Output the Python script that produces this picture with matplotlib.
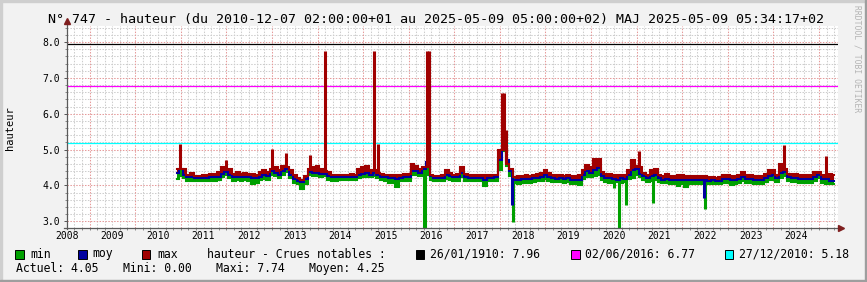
import numpy as np
import matplotlib
matplotlib.use("Agg")
import matplotlib.pyplot as plt
from matplotlib.patches import Rectangle
from matplotlib.lines import Line2D

W, H, DPI = 867, 282, 100
MONO = "DejaVu Sans Mono"

# ---------------- data (monthly values, from June 2010) ----------------
start_year = 2010
start_month = 6

h_max = [
    4.45, 4.45, 4.45, 4.30, 4.35, 4.27, 4.27,                                  # 2010
    4.30, 4.28, 4.32, 4.32, 4.37, 4.52, 4.45, 4.45, 4.33, 4.37, 4.33, 4.35,    # 2011
    4.33, 4.33, 4.30, 4.37, 4.43, 4.37, 4.45, 4.50, 4.43, 4.55, 4.50, 4.43,    # 2012
    4.28, 4.20, 4.15, 4.25, 4.45, 4.50, 4.55, 4.45, 4.40, 4.37, 4.30, 4.30,    # 2013
    4.30, 4.30, 4.30, 4.32, 4.30, 4.47, 4.50, 4.55, 4.42, 4.42, 4.35, 4.33,    # 2014
    4.30, 4.30, 4.30, 4.28, 4.30, 4.33, 4.32, 4.60, 4.55, 4.47, 4.50, 4.50,    # 2015
    4.30, 4.27, 4.27, 4.28, 4.42, 4.35, 4.30, 4.33, 4.50, 4.33, 4.30, 4.30,    # 2016
    4.28, 4.28, 4.28, 4.30, 4.28, 4.30, 4.98, 5.00, 4.60, 4.45, 4.23, 4.25,    # 2017
    4.27, 4.28, 4.27, 4.30, 4.32, 4.35, 4.43, 4.35, 4.30, 4.28, 4.30, 4.27,    # 2018
    4.30, 4.25, 4.25, 4.28, 4.42, 4.56, 4.52, 4.73, 4.73, 4.37, 4.33, 4.33,    # 2019
    4.30, 4.28, 4.30, 4.30, 4.42, 4.72, 4.55, 4.50, 4.35, 4.30, 4.42, 4.47,    # 2020
    4.30, 4.25, 4.33, 4.25, 4.25, 4.28, 4.28, 4.25, 4.25, 4.25, 4.25, 4.25,    # 2021
    4.25, 4.22, 4.23, 4.20, 4.22, 4.28, 4.28, 4.25, 4.25, 4.30, 4.37, 4.30,    # 2022
    4.30, 4.25, 4.25, 4.25, 4.33, 4.42, 4.42, 4.30, 4.60, 4.45, 4.33, 4.33,    # 2023
    4.33, 4.30, 4.28, 4.30, 4.30, 4.37, 4.37, 4.30, 4.30, 4.33, 4.28,          # 2024
]
h_moy = [
    4.35, 4.45, 4.30, 4.22, 4.22, 4.20, 4.20,
    4.20, 4.20, 4.22, 4.22, 4.24, 4.32, 4.38, 4.30, 4.22, 4.24, 4.22, 4.24,
    4.22, 4.20, 4.20, 4.24, 4.28, 4.26, 4.40, 4.35, 4.30, 4.40, 4.45, 4.30,
    4.18, 4.13, 4.10, 4.17, 4.38, 4.35, 4.35, 4.33, 4.33, 4.25, 4.22, 4.22,
    4.22, 4.22, 4.22, 4.23, 4.22, 4.30, 4.32, 4.35, 4.30, 4.35, 4.28, 4.23,
    4.22, 4.20, 4.20, 4.18, 4.20, 4.23, 4.22, 4.40, 4.40, 4.35, 4.45, 4.65,
    4.25, 4.20, 4.20, 4.21, 4.30, 4.25, 4.22, 4.23, 4.35, 4.23, 4.21, 4.21,
    4.20, 4.20, 4.15, 4.21, 4.20, 4.22, 4.70, 5.25, 4.70, 4.40, 4.15, 4.15,
    4.18, 4.18, 4.18, 4.20, 4.21, 4.22, 4.28, 4.23, 4.20, 4.19, 4.20, 4.18,
    4.20, 4.16, 4.16, 4.15, 4.28, 4.40, 4.35, 4.42, 4.48, 4.25, 4.20, 4.20,
    4.18, 4.15, 4.20, 4.18, 4.28, 4.42, 4.45, 4.33, 4.25, 4.20, 4.25, 4.30,
    4.20, 4.16, 4.18, 4.15, 4.15, 4.15, 4.15, 4.14, 4.14, 4.14, 4.14, 4.14,
    4.14, 4.13, 4.14, 4.12, 4.13, 4.17, 4.17, 4.15, 4.15, 4.18, 4.22, 4.18,
    4.18, 4.15, 4.15, 4.15, 4.20, 4.25, 4.30, 4.20, 4.35, 4.37, 4.22, 4.20,
    4.20, 4.18, 4.17, 4.18, 4.18, 4.22, 4.30, 4.18, 4.17, 4.12, 4.12,
]
h_min = [
    4.18, 4.25, 4.20, 4.13, 4.12, 4.12, 4.12,
    4.12, 4.12, 4.13, 4.13, 4.14, 4.22, 4.28, 4.20, 4.13, 4.14, 4.13, 4.14,
    4.12, 4.05, 4.08, 4.14, 4.17, 4.16, 4.30, 4.25, 4.20, 4.28, 4.38, 4.20,
    4.08, 4.05, 3.90, 4.05, 4.28, 4.25, 4.25, 4.22, 4.25, 4.15, 4.13, 4.13,
    4.14, 4.14, 4.14, 4.14, 4.14, 4.20, 4.22, 4.24, 4.22, 4.25, 4.20, 4.14,
    4.12, 4.08, 4.08, 3.95, 4.12, 4.13, 4.12, 4.30, 4.30, 4.25, 4.28, 4.30,
    4.15, 4.12, 4.12, 4.12, 4.18, 4.15, 4.12, 4.13, 4.22, 4.13, 4.12, 4.12,
    4.12, 4.12, 3.97, 4.12, 4.12, 4.13, 4.42, 4.95, 4.55, 4.25, 4.07, 4.05,
    4.08, 4.08, 4.08, 4.10, 4.11, 4.12, 4.18, 4.13, 4.10, 4.10, 4.10, 4.08,
    4.09, 4.05, 4.05, 4.00, 4.18, 4.22, 4.22, 4.25, 4.30, 4.15, 4.10, 4.08,
    4.10, 4.10, 4.08, 4.10, 4.18, 4.20, 4.30, 4.22, 4.15, 4.10, 4.12, 4.15,
    4.10, 4.07, 4.08, 4.05, 4.05, 3.98, 4.05, 3.96, 4.05, 4.05, 4.05, 4.05,
    4.05, 4.04, 4.05, 4.04, 4.05, 4.08, 4.08, 4.00, 4.05, 4.08, 4.12, 4.08,
    4.08, 4.05, 4.05, 4.05, 4.10, 4.15, 4.15, 4.10, 4.20, 4.25, 4.12, 4.10,
    4.10, 4.08, 4.07, 4.08, 4.08, 4.12, 4.20, 4.08, 4.05, 4.03, 4.03,
]

# short-lived peaks / drops (decimal year, value)
max_peak_t = [2010.49, 2011.49, 2012.51, 2012.82, 2013.335, 2013.655, 2014.73, 2014.83,
              2015.91, 2015.95, 2017.55, 2017.585, 2017.63, 2020.55, 2023.737, 2024.643]
max_peak_v = [5.15, 4.70, 5.02, 4.91, 4.84, 7.74, 7.76, 5.15,
              7.74, 7.74, 6.58, 6.58, 5.54, 4.95, 5.14, 4.82]
moy_drop_t = [2017.775, 2021.975]
moy_drop_v = [3.44, 3.64]
min_drop_t = [2015.835, 2015.865, 2017.79, 2020.0, 2020.112, 2020.27, 2020.86, 2021.99]
min_drop_v = [0.00, 0.00, 2.97, 3.92, 0.00, 3.44, 3.50, 3.35]

crue_labels = ["26/01/1910: 7.96", "02/06/2016: 6.77", "27/12/2010: 5.18"]
crue_values = [7.96, 6.77, 5.18]
crue_colors = ["#000000", "#ff00ff", "#00ffff"]

series_names = ["min", "moy", "max"]
series_colors = ["#00a000", "#0000a0", "#a00000"]

stats_labels = ["Actuel: 4.05", "Mini: 0.00", "Maxi: 7.74", "Moyen: 4.25"]
title = "N° 747 - hauteur (du 2010-12-07 02:00:00+01 au 2025-05-09 05:00:00+02) MAJ 2025-05-09 05:34:17+02"
ylabel = "hauteur"
legend_title = "hauteur - Crues notables :"
year_ticks = list(range(2008, 2025))
y_ticks = [3.0, 4.0, 5.0, 6.0, 7.0, 8.0]

t = start_year + (start_month - 1 + np.arange(len(h_max))) / 12.0

# ---------------- layout ----------------
def fx(x):
    return x / W

def fy(y):
    return 1 - y / H

AX_L, AX_R, AX_T, AX_B = 66.7, 838.0, 26.0, 228.0
X0, X1 = 2008.0, 2008.0 + (AX_R - AX_L) / 45.6
Y0, Y1 = 2.81, 8.45

fig = plt.figure(figsize=(W / DPI, H / DPI), dpi=DPI, facecolor="#f2f2f2")

# 3D frame
fig.patches.append(Rectangle((0, fy(2)), 1, 2 / H, transform=fig.transFigure, color="#cfcfcf", zorder=0))
fig.patches.append(Rectangle((0, 0), 2 / W, 1, transform=fig.transFigure, color="#cfcfcf", zorder=0))
fig.patches.append(Rectangle((fx(W - 2), 0), 2 / W, 1, transform=fig.transFigure, color="#9e9e9e", zorder=0))
fig.patches.append(Rectangle((0, 0), 1, 2 / H, transform=fig.transFigure, color="#9e9e9e", zorder=0))

ax = fig.add_axes([fx(AX_L), fy(AX_B), (AX_R - AX_L) / W, (AX_B - AX_T) / H])
ax.set_facecolor("white")
ax.set_xlim(X0, X1)
ax.set_ylim(Y0, Y1)
for s in ax.spines.values():
    s.set_visible(False)

# grid
dash = (0, (1.4, 1.4))
for yr in range(2008, 2026):
    for k in range(6):
        xv = yr + k * 2 / 12
        if X0 < xv < X1:
            if k == 3:
                ax.axvline(xv, color="#e59a9a", lw=0.75, ls=dash, zorder=1)
            else:
                ax.axvline(xv, color="#cdcdcd", lw=0.75, ls=dash, zorder=0.8)
for i in range(14, 43):
    v = i * 0.2
    if Y0 < v < Y1:
        if i % 5 == 0:
            ax.axhline(v, color="#e59a9a", lw=0.75, ls=dash, zorder=1)
        else:
            ax.axhline(v, color="#cdcdcd", lw=0.75, ls=dash, zorder=0.8)

# reference lines (crues)
for v, c in zip(crue_values, crue_colors):
    ax.axhline(v, color=c, lw=0.9, zorder=2)


def base_at(vals, times):
    idx = np.clip(np.rint((np.asarray(times) - t[0]) * 12).astype(int), 0, len(vals) - 1)
    return np.asarray(vals)[idx]


LW = 1.5
SPK = 2.2
# min
ax.fill_between(t, h_min, h_moy, step="mid", color=series_colors[0], lw=0, zorder=2.5)
ax.plot(t, h_min, drawstyle="steps-mid", color=series_colors[0], lw=LW, solid_joinstyle="miter", zorder=3.0)
ax.vlines(min_drop_t, base_at(h_min, min_drop_t), min_drop_v, color=series_colors[0], lw=SPK, zorder=3.0)
# moy band (max-moy) drawn below the moy line
ax.fill_between(t, h_moy, h_max, step="mid", color=series_colors[2], lw=0, zorder=2.6)
ax.plot(t, h_moy, drawstyle="steps-mid", color=series_colors[1], lw=LW, solid_joinstyle="miter", zorder=3.2)
ax.vlines(moy_drop_t, base_at(h_moy, moy_drop_t), moy_drop_v, color=series_colors[1], lw=SPK, zorder=3.2)
# max
ax.plot(t, h_max, drawstyle="steps-mid", color=series_colors[2], lw=LW, solid_joinstyle="miter", zorder=3.4)
ax.vlines(max_peak_t, base_at(h_max, max_peak_t), max_peak_v, color=series_colors[2], lw=SPK, zorder=3.4)

# ticks
ax.set_xticks(year_ticks)
ax.set_xticklabels([str(y) for y in year_ticks], fontsize=7, family=MONO)
ax.set_yticks(y_ticks)
ax.set_yticklabels(["%.1f" % v for v in y_ticks], fontsize=7, family=MONO)
ax.set_xticks([yr + k * 2 / 12 for yr in range(2008, 2025) for k in range(6)
               if X0 < yr + k * 2 / 12 < X1], minor=True)
ax.set_yticks([i * 0.2 for i in range(15, 43)], minor=True)
ax.tick_params(axis="x", which="major", length=0, pad=2.4)
ax.tick_params(axis="y", which="major", length=2, width=0.7, color="#555555", pad=3.0)
ax.tick_params(which="minor", length=1.5, width=0.7, color="#888888")

# axes lines and arrows
fig.add_artist(Line2D([fx(AX_L), fx(AX_L)], [fy(AX_B + 1), fy(AX_T - 4)],
                      color="#5a5a5a", lw=0.9, transform=fig.transFigure, zorder=5))
fig.add_artist(Line2D([fx(AX_L - 3), fx(AX_R + 2)], [fy(AX_B), fy(AX_B)],
                      color="#5a5a5a", lw=0.9, transform=fig.transFigure, zorder=5))
fig.add_artist(Line2D([fx(AX_L)], [fy(AX_T - 5)], marker="^", markersize=4.5,
                      color="#7f1f1f", transform=fig.transFigure, zorder=6))
fig.add_artist(Line2D([fx(AX_R + 3)], [fy(AX_B)], marker=">", markersize=4.5,
                      color="#7f1f1f", transform=fig.transFigure, zorder=6))

# texts
fig.text(fx(436), fy(19), title, ha="center", va="center", fontsize=9.6, family=MONO)
fig.text(fx(10), fy(128), ylabel, rotation=90, ha="center", va="center", fontsize=7.5, family=MONO)
fig.text(fx(857), fy(5), "RRDTOOL / TOBI OETIKER", rotation=270, ha="center", va="top",
         fontsize=5.8, family=MONO, color="#b4b4b4")

# legend row 1
ROW1, ROW2 = 254, 268.5
box_x = [15, 78.3, 141.7]
text_x = [30, 92.7, 157]
for bx, tx, name, c in zip(box_x, text_x, series_names, series_colors):
    fig.patches.append(Rectangle((fx(bx), fy(ROW1 + 4.5)), 8.5 / W, 9 / H, transform=fig.transFigure,
                                 facecolor=c, edgecolor="black", lw=0.7))
    fig.text(fx(tx), fy(ROW1), name, ha="left", va="center", fontsize=8.3, family=MONO)
fig.text(fx(206.7), fy(ROW1), legend_title, ha="left", va="center", fontsize=8.3, family=MONO)
cbox_x = [415.5, 571, 724.5]
ctext_x = [430, 585, 739.3]
for bx, tx, lab, c in zip(cbox_x, ctext_x, crue_labels, crue_colors):
    fig.patches.append(Rectangle((fx(bx), fy(ROW1 + 4.5)), 8.5 / W, 9 / H, transform=fig.transFigure,
                                 facecolor=c, edgecolor="black", lw=0.7))
    fig.text(fx(tx), fy(ROW1), lab, ha="left", va="center", fontsize=8.3, family=MONO)

# legend row 2
stat_x = [16, 122.7, 215.7, 308.7]
for sx, lab in zip(stat_x, stats_labels):
    fig.text(fx(sx), fy(ROW2), lab, ha="left", va="center", fontsize=8.3, family=MONO)

fig.savefig("out.png", dpi=DPI, facecolor=fig.get_facecolor())
